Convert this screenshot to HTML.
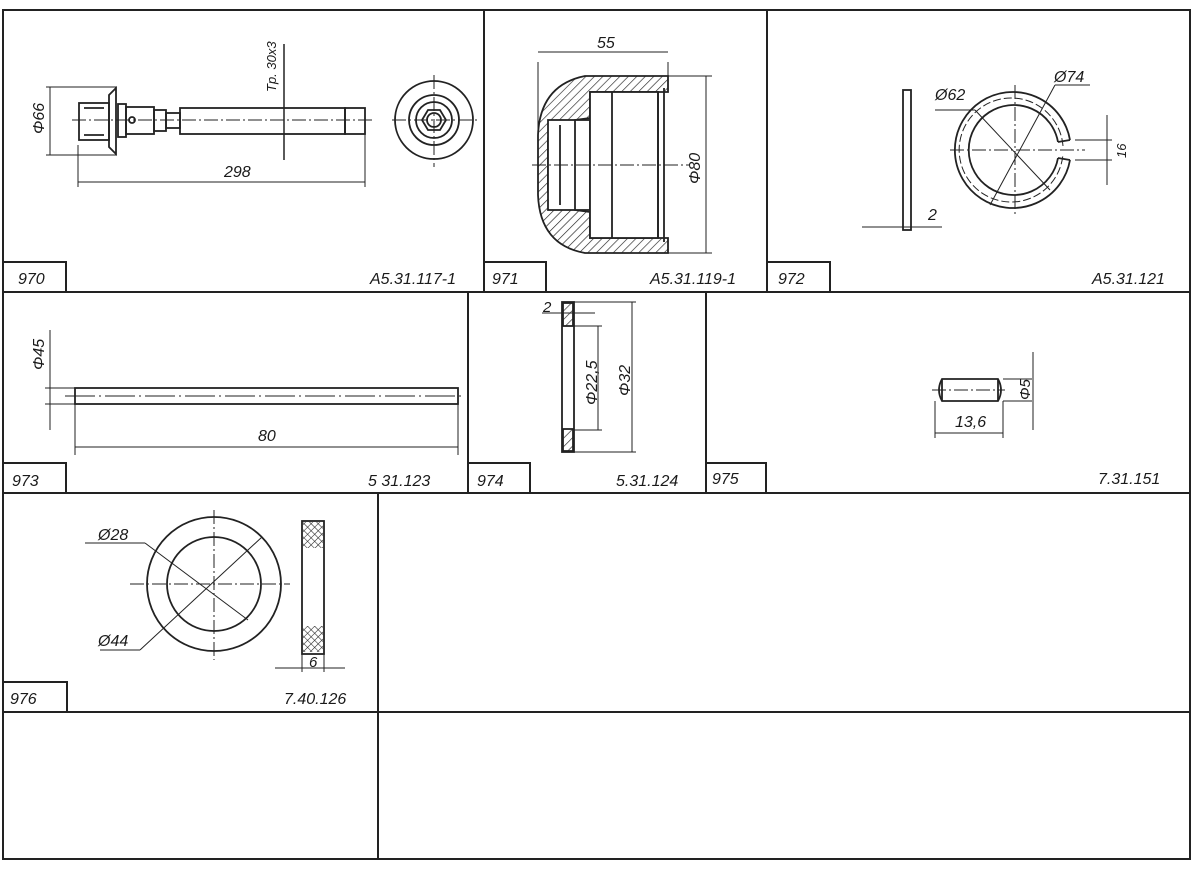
<!DOCTYPE html>
<html><head><meta charset="utf-8"><style>
html,body{margin:0;padding:0;background:#fff;}
svg{display:block;}
text{font-family:"Liberation Sans",sans-serif;font-style:italic;fill:#1a1a1a;}
</style></head><body>
<svg width="1200" height="873" viewBox="0 0 1200 873" xmlns="http://www.w3.org/2000/svg">
<defs>
<pattern id="h" width="6" height="6" patternUnits="userSpaceOnUse" patternTransform="rotate(45)">
<line x1="0" y1="0" x2="0" y2="6" stroke="#222" stroke-width="1.3"/></pattern>
<pattern id="x" width="5" height="5" patternUnits="userSpaceOnUse" patternTransform="rotate(45)">
<line x1="0" y1="0" x2="0" y2="5" stroke="#222" stroke-width="1.1"/><line x1="0" y1="0" x2="5" y2="0" stroke="#222" stroke-width="1.1"/></pattern>
</defs>
<rect width="1200" height="873" fill="#fff"/>
<g stroke="#222" stroke-width="2" fill="none">
<rect x="3" y="10" width="1187" height="849"/>
<line x1="3" y1="292" x2="1190" y2="292"/>
<line x1="3" y1="493" x2="1190" y2="493"/>
<line x1="3" y1="712" x2="1190" y2="712"/>
<line x1="484" y1="10" x2="484" y2="292"/>
<line x1="767" y1="10" x2="767" y2="292"/>
<line x1="468" y1="292" x2="468" y2="493"/>
<line x1="706" y1="292" x2="706" y2="493"/>
<line x1="378" y1="493" x2="378" y2="859"/>
<polyline points="3,262 66,262 66,292"/>
<polyline points="484,262 546,262 546,292"/>
<polyline points="767,262 830,262 830,292"/>
<polyline points="3,463 66,463 66,493"/>
<polyline points="468,463 530,463 530,493"/>
<polyline points="706,463 766,463 766,493"/>
<polyline points="3,682 67,682 67,712"/>
</g>
<g font-size="16">
<text x="18" y="284">970</text><text x="370" y="284">A5.31.117-1</text>
<text x="492" y="284">971</text><text x="650" y="284">A5.31.119-1</text>
<text x="778" y="284">972</text><text x="1092" y="284">A5.31.121</text>
<text x="12" y="486">973</text><text x="368" y="486">5 31.123</text>
<text x="477" y="486">974</text><text x="616" y="486">5.31.124</text>
<text x="712" y="484">975</text><text x="1098" y="484">7.31.151</text>
<text x="10" y="704">976</text><text x="284" y="704">7.40.126</text>
</g>
<!-- 970 bolt -->
<g stroke="#222" stroke-width="1.8" fill="none">
<rect x="79" y="103" width="30" height="37"/>
<path d="M109 95 L116 88 L116 154 L109 147 Z"/>
<rect x="118" y="104" width="8" height="33"/>
<rect x="126" y="107" width="28" height="27"/>
<rect x="154" y="110" width="12" height="21"/>
<rect x="166" y="113" width="14" height="15"/>
<rect x="180" y="108" width="165" height="26"/>
<rect x="345" y="108" width="20" height="26"/>
<line x1="84" y1="108" x2="104" y2="108"/><line x1="84" y1="135" x2="104" y2="135"/>
<circle cx="132" cy="120" r="3"/>
<circle cx="434" cy="120" r="39"/><circle cx="434" cy="120" r="25"/><circle cx="434" cy="120" r="18"/>
<polygon points="446,120 440,130 428,130 422,120 428,110 440,110"/>
<circle cx="434" cy="120" r="7"/>
</g>
<g stroke="#222" stroke-width="1" fill="none">
<line x1="72" y1="120" x2="372" y2="120" stroke-dasharray="14,3,2,3"/>
<line x1="392" y1="120" x2="478" y2="120" stroke-dasharray="14,3,2,3"/>
<line x1="434" y1="75" x2="434" y2="167" stroke-dasharray="14,3,2,3"/>
<line x1="46" y1="87" x2="116" y2="87"/><line x1="46" y1="155" x2="116" y2="155"/>
<line x1="50" y1="87" x2="50" y2="155"/>
<line x1="78" y1="145" x2="78" y2="187"/><line x1="365" y1="110" x2="365" y2="187"/>
<line x1="78" y1="182" x2="365" y2="182"/>
<line x1="284" y1="44" x2="284" y2="160" stroke-width="1.5"/>
</g>
<text x="224" y="177" font-size="16">298</text>
<text transform="translate(44,134) rotate(-90)" font-size="16">Φ66</text>
<text transform="translate(276,92) rotate(-90)" font-size="13">Tp. 30x3</text>
<!-- 971 cap -->
<g stroke="#222" stroke-width="1.8">
<path d="M668 76 L585 76 Q540 85 538 135 L538 195 Q540 245 585 253 L668 253 L668 238 L590 238 L590 212 L575 210 Q560 205 548 192 L548 138 Q560 125 575 120 L590 118 L590 92 L668 92 Z" fill="url(#h)"/>
<rect x="548" y="120" width="42" height="90" fill="#fff"/>
<line x1="575" y1="120" x2="575" y2="210"/><line x1="560" y1="125" x2="560" y2="205"/>
<rect x="590" y="92" width="68" height="146" fill="#fff"/>
<line x1="612" y1="92" x2="612" y2="238"/>
<line x1="658" y1="92" x2="658" y2="238"/><line x1="664" y1="88" x2="664" y2="242"/>
</g>
<g stroke="#222" stroke-width="1" fill="none">
<line x1="532" y1="165" x2="690" y2="165" stroke-dasharray="14,3,2,3"/>
<line x1="538" y1="62" x2="538" y2="135"/><line x1="668" y1="62" x2="668" y2="76"/>
<line x1="538" y1="52" x2="668" y2="52"/>
<line x1="668" y1="76" x2="712" y2="76"/><line x1="668" y1="253" x2="712" y2="253"/>
<line x1="706" y1="76" x2="706" y2="253"/>
</g>
<text x="597" y="48" font-size="16">55</text>
<text transform="translate(700,184) rotate(-90)" font-size="16">Φ80</text>
<!-- 972 -->
<g stroke="#222" stroke-width="1.8" fill="none">
<rect x="903" y="90" width="8" height="140"/>
<path d="M1070 140 A58 58 0 1 0 1070 160"/>
<path d="M1058 142 A45 45 0 1 0 1058 158"/>
<line x1="1058" y1="142" x2="1070" y2="140"/><line x1="1058" y1="158" x2="1070" y2="160"/>
</g>
<g stroke="#222" stroke-width="1" fill="none">
<path d="M1063 146 A52 52 0 1 0 1063 154" stroke-dasharray="8,3"/>
<line x1="950" y1="150" x2="1085" y2="150" stroke-dasharray="14,3,2,3"/>
<line x1="1015" y1="85" x2="1015" y2="215" stroke-dasharray="14,3,2,3"/>
<line x1="935" y1="110" x2="975" y2="110"/><line x1="975" y1="110" x2="1050" y2="190"/>
<line x1="1055" y1="85" x2="990" y2="205"/><line x1="1055" y1="85" x2="1090" y2="85"/>
<line x1="1075" y1="140" x2="1112" y2="140"/><line x1="1075" y1="160" x2="1112" y2="160"/>
<line x1="1107" y1="115" x2="1107" y2="185"/>
<line x1="862" y1="227" x2="942" y2="227"/>
</g>
<text x="935" y="100" font-size="16">Ø62</text>
<text x="1054" y="82" font-size="16">Ø74</text>
<text transform="translate(1126,158) rotate(-90)" font-size="13">16</text>
<text x="928" y="220" font-size="16">2</text>
<!-- 973 -->
<rect x="75" y="388" width="383" height="16" stroke="#222" stroke-width="1.8" fill="none"/>
<g stroke="#222" stroke-width="1" fill="none">
<line x1="65" y1="396" x2="465" y2="396" stroke-dasharray="30,4,2,4"/>
<line x1="45" y1="388" x2="75" y2="388"/><line x1="45" y1="404" x2="75" y2="404"/>
<line x1="50" y1="330" x2="50" y2="430"/>
<line x1="75" y1="404" x2="75" y2="455"/><line x1="458" y1="404" x2="458" y2="455"/>
<line x1="75" y1="447" x2="458" y2="447"/>
</g>
<text x="258" y="441" font-size="16">80</text>
<text transform="translate(44,370) rotate(-90)" font-size="16">Φ45</text>
<!-- 974 -->
<g stroke="#222" stroke-width="1.8">
<rect x="562" y="302" width="12" height="150" fill="none"/>
<rect x="563" y="303" width="10" height="23" fill="url(#h)"/>
<rect x="563" y="429" width="10" height="22" fill="url(#h)"/>
</g>
<g stroke="#222" stroke-width="1" fill="none">
<line x1="574" y1="302" x2="636" y2="302"/><line x1="574" y1="452" x2="636" y2="452"/>
<line x1="574" y1="326" x2="602" y2="326"/><line x1="574" y1="430" x2="602" y2="430"/>
<line x1="598" y1="326" x2="598" y2="430"/><line x1="632" y1="302" x2="632" y2="452"/>
<line x1="542" y1="313" x2="595" y2="313"/>
</g>
<text x="543" y="312" font-size="15">2</text>
<text transform="translate(597,405) rotate(-90)" font-size="16">Φ22,5</text>
<text transform="translate(630,396) rotate(-90)" font-size="16">Φ32</text>
<!-- 975 -->
<g stroke="#222" stroke-width="1.8" fill="none">
<path d="M942 379 L998 379 Q1004 390 998 401 L942 401 Q936 390 942 379 Z"/>
<line x1="942" y1="379" x2="942" y2="401"/><line x1="998" y1="379" x2="998" y2="401"/>
</g>
<g stroke="#222" stroke-width="1" fill="none">
<line x1="932" y1="390" x2="1005" y2="390" stroke-dasharray="14,3,2,3"/>
<line x1="1003" y1="379" x2="1032" y2="379"/><line x1="1003" y1="401" x2="1032" y2="401"/>
<line x1="1033" y1="352" x2="1033" y2="430"/>
<line x1="935" y1="401" x2="935" y2="438"/><line x1="1003" y1="401" x2="1003" y2="438"/>
<line x1="935" y1="433" x2="1003" y2="433"/>
</g>
<text x="955" y="427" font-size="16">13,6</text>
<text transform="translate(1030,400) rotate(-90)" font-size="15">Φ5</text>
<!-- 976 -->
<g stroke="#222" stroke-width="1.8" fill="none">
<circle cx="214" cy="584" r="67"/><circle cx="214" cy="584" r="47"/>
<rect x="302" y="521" width="22" height="133"/>
</g>
<rect x="303" y="522" width="20" height="26" fill="url(#x)"/>
<rect x="303" y="626" width="20" height="26" fill="url(#x)"/>
<g stroke="#222" stroke-width="1" fill="none">
<line x1="130" y1="584" x2="290" y2="584" stroke-dasharray="14,3,2,3"/>
<line x1="214" y1="510" x2="214" y2="660" stroke-dasharray="14,3,2,3"/>
<line x1="85" y1="543" x2="145" y2="543"/><line x1="145" y1="543" x2="248" y2="620"/>
<line x1="100" y1="650" x2="140" y2="650"/><line x1="140" y1="650" x2="262" y2="537"/>
<line x1="302" y1="654" x2="302" y2="672"/><line x1="324" y1="654" x2="324" y2="672"/>
<line x1="275" y1="668" x2="345" y2="668"/>
</g>
<text x="98" y="540" font-size="16">Ø28</text>
<text x="98" y="646" font-size="16">Ø44</text>
<text x="309" y="667" font-size="15">6</text>
</svg>
</body></html>
